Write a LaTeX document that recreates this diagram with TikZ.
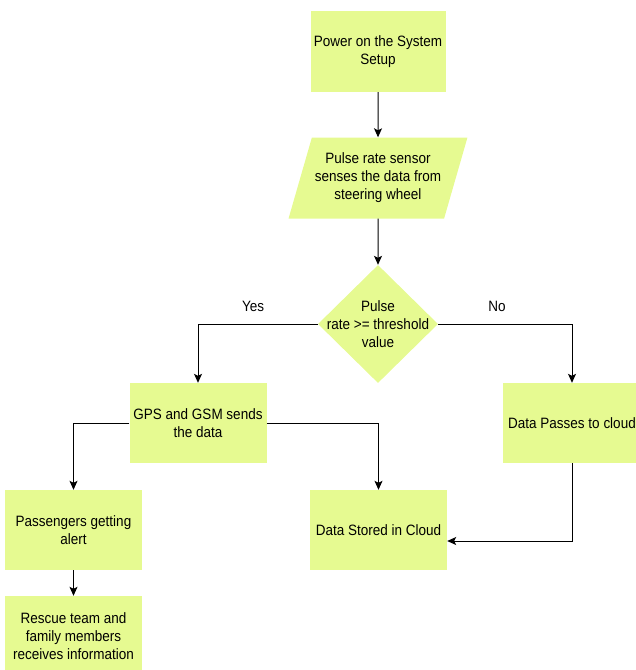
\documentclass[tikz,border=0pt]{standalone}
\usepackage{fontspec}
\setmainfont{Liberation Sans}[FakeStretch=0.9]
\usepackage{tikz}
\usetikzlibrary{arrows.meta,shapes.geometric}
\definecolor{boxgreen}{RGB}{230,250,145}

\begin{document}
\begin{tikzpicture}[x=1pt,y=-1pt,
   every node/.style={font=\fontsize{15}{18}\selectfont,align=center},
   box/.style={fill=boxgreen,minimum width=137pt,minimum height=80pt,inner sep=2pt},
   io/.style={trapezium,trapezium left angle=66,trapezium right angle=114,trapezium stretches=true,
      fill=boxgreen,minimum width=179pt,minimum height=81pt,inner sep=0pt},
   decide/.style={diamond,fill=boxgreen,minimum width=120pt,minimum height=118pt,inner sep=0pt},
   conn/.style={draw,line width=1pt,-{Stealth[length=9pt,width=8pt,inset=2pt]}}]
   \useasboundingbox (0,0) rectangle (636,670);

   \draw (378,51.5) node[box,minimum width=135pt,minimum height=81pt] (power) {Power on the System\\Setup};
     \draw (378,178) node[io] (sensor) {Pulse rate sensor\\senses the data from\\steering wheel};
   \draw (378,324) node[decide] (check) {};
   \draw (check) node (checktext) {Pulse\\rate >= threshold\\value};
      \draw (198,423) node[box] (gps) {GPS and GSM sends\\the data};
      \draw (572,423) node[box,minimum width=138pt] (cloudpass) {Data Passes to cloud};
      \draw (378.5,530) node[box] (stored) {Data Stored in Cloud};
      \draw (73.5,530) node[box] (alert) {Passengers getting\\alert};
      \draw (73.5,636) node[box] (rescue) {Rescue team and\\family members\\receives information};

      \path[conn] (power) edge (sensor);
      \path[conn] (sensor) edge (check);
      \draw[conn] (check.west) -| node[pos=0.27,above=9pt] {Yes} (gps.north);
      \draw[conn] (check.east) -| node[pos=0.22,above=9pt] {No} (cloudpass.north);
      \draw[conn] (gps.west) -| (alert.north);
      \draw[conn] (gps.east) -| (stored.north);
      \draw[conn] (cloudpass.south) |- ([yshift=-11pt]stored.east);
      \path[conn] (alert) edge (rescue);

\end{tikzpicture}
\end{document}
